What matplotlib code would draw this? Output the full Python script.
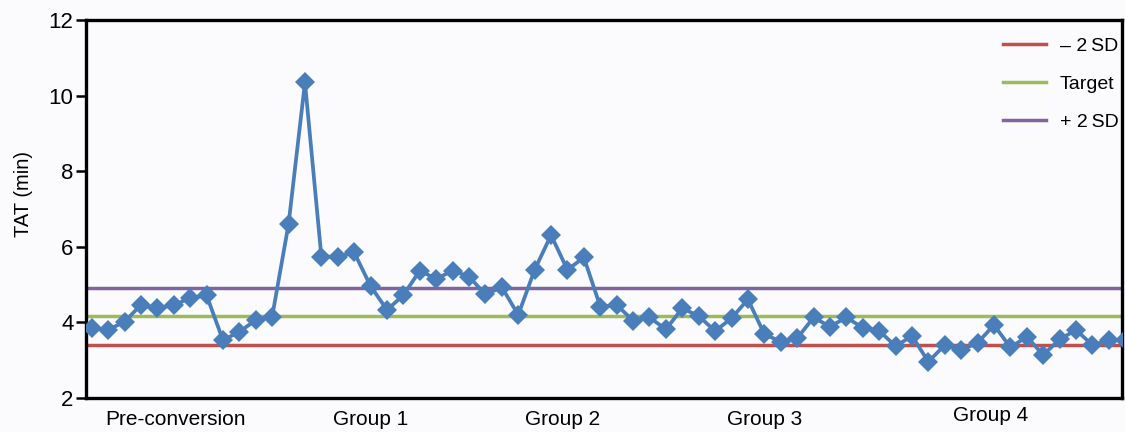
import numpy as np
import matplotlib.pyplot as plt

plt.rcParams['font.family'] = ['Liberation Sans', 'DejaVu Sans']

# turnaround time per sample (min)
tat = [3.84, 3.80, 4.02, 4.46, 4.37, 4.46, 4.64, 4.72, 3.53, 3.75,
       4.06, 4.15, 6.60, 10.35, 5.74, 5.74, 5.85, 4.96, 4.33, 4.72,
       5.37, 5.15, 5.37, 5.21, 4.74, 4.93, 4.20, 5.39, 6.31, 5.39,
       5.72, 4.42, 4.46, 4.05, 4.13, 3.82, 4.37, 4.17, 3.77, 4.11,
       4.61, 3.69, 3.49, 3.58, 4.13, 3.89, 4.13, 3.86, 3.78, 3.37,
       3.64, 2.96, 3.40, 3.27, 3.46, 3.93, 3.34, 3.62, 3.14, 3.55,
       3.80, 3.40, 3.53, 3.53]

minus_2sd = 3.40
target = 4.17
plus_2sd = 4.91

groups = ['Pre-conversion', 'Group 1', 'Group 2', 'Group 3', 'Group 4']
group_x = [5.1, 17.0, 28.7, 41.0, 54.8]
group_y = [-0.058, -0.058, -0.058, -0.058, -0.047]

bg = '#fbfbfd'
fig = plt.figure(figsize=(11.25, 4.32), dpi=100, facecolor=bg)
ax = fig.add_axes([0.0764, 0.0787, 0.9209, 0.875], facecolor=bg)

x = np.arange(len(tat))
ax.plot(x, tat, color='#4a7ebb', lw=2.7, marker='D', ms=10.5,
        markeredgewidth=0, zorder=3)

ax.axhline(minus_2sd, color='#c0504d', lw=2.5, label='\u2013 2\u2009SD', zorder=2)
ax.axhline(target, color='#9bbb59', lw=2.5, label='Target', zorder=2)
ax.axhline(plus_2sd, color='#8064a2', lw=2.5, label='+ 2\u2009SD', zorder=2)

ax.set_xlim(-0.35, 62.8)
ax.set_ylim(2, 12)
ax.set_yticks(range(2, 13, 2))
ax.set_xticks([])
ax.tick_params(axis='y', length=7, width=1.8, labelsize=16, pad=2)
ax.set_ylabel('TAT (min)', fontsize=14.5)
ax.yaxis.set_label_coords(-0.051, 0.54)

for s in ax.spines.values():
    s.set_linewidth(2.4)

for name, gx, gy in zip(groups, group_x, group_y):
    ax.text(gx, gy, name, transform=ax.get_xaxis_transform(),
            ha='center', va='center', fontsize=15)

leg = ax.legend(loc='upper right', frameon=False, fontsize=14,
                handlelength=2.2, labelspacing=1.05, handletextpad=0.7,
                borderaxespad=0, bbox_to_anchor=(1.004, 0.975))

fig.savefig('out.png', dpi=100, facecolor=bg)
